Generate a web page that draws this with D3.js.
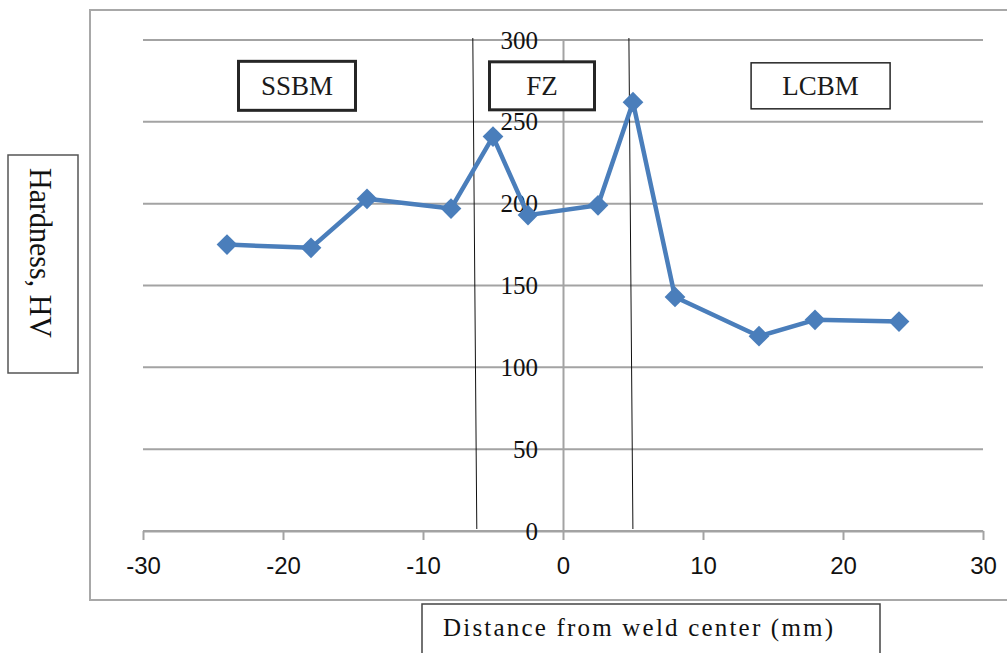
<!DOCTYPE html>
<html>
<head>
<meta charset="utf-8">
<script src="https://cdn.jsdelivr.net/npm/d3@7"></script>
<style>
    body { margin: 0; background: #fff; }
    svg { display: block; }
</style>
</head>
<body>
<div id="chart"></div>
<script>
// hardness traverse across the weld
var distance = [-24, -18, -14, -8, -5, -2.5, 2.5, 5, 8, 14, 18, 24];
var hardness = [175, 173, 203, 197, 241, 193, 199, 262, 143, 119, 129, 128];
var xTicks = [-30, -20, -10, 0, 10, 20, 30];
var yTicks = [0, 50, 100, 150, 200, 250, 300];
var zoneNames = ["SSBM", "FZ", "LCBM"];
var zoneBounds = [-6.3, 4.85];   // drawn boundaries between the zones (mm)

var
    width = 1007,
    height = 653,
    margin = { top: 40, right: 24, bottom: 122, left: 143 },
    innerWidth = width - margin.left - margin.right,
    innerHeight = height - margin.top - margin.bottom,
    serif = "'Liberation Serif', 'Times New Roman', serif",
    sans = "'Liberation Sans', Arial, sans-serif",
    gridColor = "#a3a3a3",
    lineColor = "#4a7ebb";

var xScale = d3.scaleLinear().domain([-30, 30]).range([0, innerWidth]);
var yScale = d3.scaleLinear().domain([0, 300]).range([innerHeight, 0]);

var svg = d3.select("#chart").append("svg")
    .attr("width", width)
    .attr("height", height);

svg.append("rect").attr("width", width).attr("height", height).attr("fill", "#fff");

// chart frame (runs off the right edge in the original)
svg.append("rect")
    .attr("x", 90).attr("y", 10)
    .attr("width", 1000).attr("height", 590)
    .attr("fill", "none")
    .attr("stroke", "#a8a8a8")
    .attr("stroke-width", 2);

var g = svg.append("g")
    .attr("transform", "translate(" + margin.left + "," + margin.top + ")");

// horizontal gridlines
g.append("g").selectAll("line")
    .data(yTicks)
    .enter().append("line")
    .attr("x1", xScale(-30))
    .attr("x2", xScale(30))
    .attr("y1", function (d) { return yScale(d); })
    .attr("y2", function (d) { return yScale(d); })
    .attr("stroke", gridColor)
    .attr("stroke-width", 2);

// x axis, plain hyphen for negatives like the original
var xAxis = g.append("g")
    .attr("transform", "translate(0," + innerHeight + ")")
    .call(d3.axisBottom(xScale)
        .tickValues(xTicks)
        .tickFormat(function (d) { return String(d); })
        .tickSize(9).tickSizeOuter(0).tickPadding(17));
xAxis.select(".domain").attr("stroke", gridColor).attr("stroke-width", 2);
xAxis.selectAll(".tick line").attr("stroke", gridColor).attr("stroke-width", 2);
xAxis.selectAll(".tick text")
    .attr("fill", "#111")
    .style("font-family", sans)
    .style("font-size", "24px");

// y axis sits at zero distance
var yAxis = g.append("g")
    .attr("transform", "translate(" + xScale(0) + ",0)")
    .call(d3.axisLeft(yScale).tickValues(yTicks).tickSize(0).tickPadding(25));
yAxis.select(".domain").attr("stroke", gridColor).attr("stroke-width", 2);
yAxis.selectAll(".tick text")
    .attr("fill", "#111")
    .style("font-family", serif)
    .style("font-size", "25px");

// zone boundaries, drawn by hand so slightly slanted
g.append("g").selectAll("line")
    .data(zoneBounds)
    .enter().append("line")
    .attr("x1", function (d) { return xScale(d) - 2; })
    .attr("x2", function (d) { return xScale(d) + 2; })
    .attr("y1", yScale(300) - 2)
    .attr("y2", yScale(0) - 2)
    .attr("stroke", "#111")
    .attr("stroke-width", 1);

// the hardness profile
var points = distance.map(function (d, i) { return [d, hardness[i]]; });

g.append("path")
    .datum(points)
    .attr("fill", "none")
    .attr("stroke", lineColor)
    .attr("stroke-width", 4.5)
    .attr("stroke-linejoin", "round")
    .attr("d", d3.line()
        .x(function (d) { return xScale(d[0]); })
        .y(function (d) { return yScale(d[1]); }));

g.append("g").selectAll("path")
    .data(points)
    .enter().append("path")
    .attr("d", d3.symbol(d3.symbolSquare, 215))
    .attr("transform", function (d) {
        return "translate(" + xScale(d[0]) + "," + yScale(d[1]) + ") rotate(45)";
    })
    .attr("fill", lineColor);

// zone labels in boxes
var boxLayout = [
    { cx: -19, w: 117, h: 49, sw: 3 },
    { cx: -1.5, w: 105, h: 48, sw: 3 },
    { cx: 18.4, w: 139, h: 46, sw: 1.5 }
];
var boxes = g.append("g").selectAll("g")
    .data(zoneNames)
    .enter().append("g")
    .attr("transform", function (d, i) {
        return "translate(" + xScale(boxLayout[i].cx) + "," + (yScale(272)) + ")";
    });
boxes.append("rect")
    .attr("x", function (d, i) { return -boxLayout[i].w / 2; })
    .attr("y", function (d, i) { return -boxLayout[i].h / 2; })
    .attr("width", function (d, i) { return boxLayout[i].w; })
    .attr("height", function (d, i) { return boxLayout[i].h; })
    .attr("fill", "#fff")
    .attr("stroke", "#262626")
    .attr("stroke-width", function (d, i) { return boxLayout[i].sw; });
boxes.append("text")
    .attr("text-anchor", "middle")
    .attr("y", 9)
    .attr("fill", "#1a1a1a")
    .style("font-family", serif)
    .style("font-size", "27px")
    .text(function (d) { return d; });

// y title box
svg.append("rect")
    .attr("x", 8).attr("y", 155)
    .attr("width", 70).attr("height", 218)
    .attr("fill", "#fff")
    .attr("stroke", "#555")
    .attr("stroke-width", 1.5);
svg.append("text")
    .attr("transform", "translate(30,253) rotate(90)")
    .attr("text-anchor", "middle")
    .attr("fill", "#111")
    .attr("textLength", 170)
    .attr("lengthAdjust", "spacingAndGlyphs")
    .style("font-family", serif)
    .style("font-size", "31px")
    .text("Hardness, HV");

// x title box (open at the bottom, runs off the page)
svg.append("rect")
    .attr("x", 422).attr("y", 604)
    .attr("width", 458).attr("height", 80)
    .attr("fill", "#fff")
    .attr("stroke", "#444")
    .attr("stroke-width", 1.5);
svg.append("text")
    .attr("x", 443).attr("y", 636)
    .attr("fill", "#111")
    .attr("textLength", 390)
    .attr("lengthAdjust", "spacing")
    .style("font-family", serif)
    .style("font-size", "25px")
    .text("Distance from weld center (mm)");
</script>
</body>
</html>
